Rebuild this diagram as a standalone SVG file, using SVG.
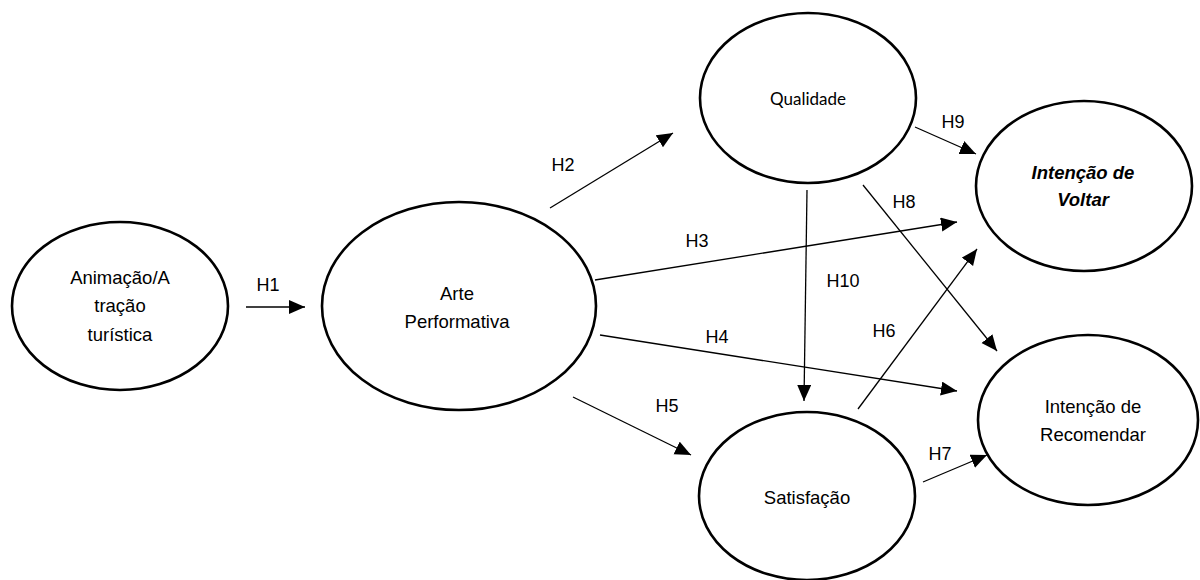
<svg xmlns="http://www.w3.org/2000/svg" width="1200" height="580" viewBox="0 0 1200 580">
<defs>
<marker id="arr" markerUnits="userSpaceOnUse" markerWidth="18" markerHeight="16" refX="16" refY="7" orient="auto">
<path d="M0,0 L16,7 L0,14 z" fill="#000"/>
</marker>
<style>
.node ellipse{fill:#fff;stroke:#000;stroke-width:2.6}
.t{font-family:"Liberation Sans",Arial,sans-serif;font-size:18.5px;fill:#000;text-anchor:middle}
.q{font-family:"Lato","Liberation Sans",sans-serif;font-size:17px;fill:#000;text-anchor:middle}
.bi{font-weight:bold;font-style:italic}
.conn line{stroke:#000;stroke-width:1.3;marker-end:url(#arr)}
.lbl{font-family:"Liberation Sans",Arial,sans-serif;font-size:18px;fill:#000;text-anchor:middle}
</style>
</defs>
<rect width="1200" height="580" fill="#fff"/>
<g id="connectors" class="conn">
<line x1="246" y1="307" x2="305" y2="307"/>
<line x1="550" y1="208" x2="673" y2="133"/>
<line x1="595" y1="280" x2="957" y2="222"/>
<line x1="600" y1="335" x2="957" y2="391"/>
<line x1="573" y1="397" x2="691" y2="455"/>
<line x1="858" y1="409" x2="977" y2="249"/>
<line x1="923" y1="482" x2="987" y2="455"/>
<line x1="863" y1="185" x2="997" y2="351"/>
<line x1="915" y1="127" x2="976" y2="154"/>
<line x1="807" y1="190" x2="804" y2="401"/>
</g>
<g id="labels">
<text class="lbl" x="268" y="291">H1</text>
<text class="lbl" x="563" y="171">H2</text>
<text class="lbl" x="697" y="247">H3</text>
<text class="lbl" x="717" y="343">H4</text>
<text class="lbl" x="667" y="412">H5</text>
<text class="lbl" x="884" y="337">H6</text>
<text class="lbl" x="940" y="460">H7</text>
<text class="lbl" x="904" y="208">H8</text>
<text class="lbl" x="953" y="128">H9</text>
<text class="lbl" x="843" y="287">H10</text>
</g>
<g id="node-animacao" class="node">
<ellipse cx="120" cy="306" rx="108" ry="84"/>
<text class="t" x="120" y="284">Animação/A</text>
<text class="t" x="120" y="312">tração</text>
<text class="t" x="120" y="341">turística</text>
</g>
<g id="node-arte" class="node">
<ellipse cx="459" cy="306" rx="137" ry="104"/>
<text class="t" x="457" y="300">Arte</text>
<text class="t" x="457" y="328">Performativa</text>
</g>
<g id="node-qualidade" class="node">
<ellipse cx="808" cy="98" rx="108" ry="85"/>
<text class="q" x="808" y="105">Qualidade</text>
</g>
<g id="node-voltar" class="node">
<ellipse cx="1084" cy="186" rx="108" ry="85"/>
<text class="t bi" x="1083" y="179">Intenção de</text>
<text class="t bi" x="1083" y="206">Voltar</text>
</g>
<g id="node-satisfacao" class="node">
<ellipse cx="807" cy="496" rx="108" ry="84"/>
<text class="t" x="807" y="504">Satisfação</text>
</g>
<g id="node-recomendar" class="node">
<ellipse cx="1088" cy="420" rx="110" ry="85"/>
<text class="t" x="1093" y="413">Intenção de</text>
<text class="t" x="1093" y="441">Recomendar</text>
</g>
</svg>
